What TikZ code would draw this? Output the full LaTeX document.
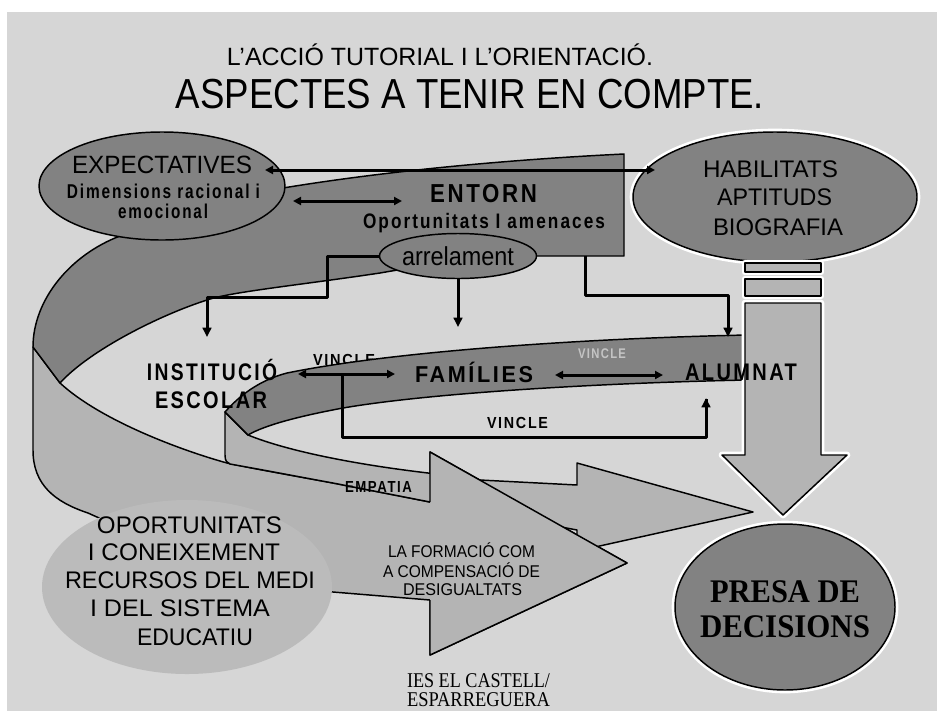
\documentclass[tikz,border=0pt]{standalone}
\usepackage{fontspec}
\setmainfont{Liberation Sans}
\newfontfamily\serifb{Liberation Serif Bold}
\newfontfamily\serifr{Liberation Serif}
\newfontfamily\sbold{Liberation Sans Bold}[LetterSpace=12]
\usetikzlibrary{arrows.meta,shapes.geometric}
\newlength\px \setlength\px{0.75pt}
\definecolor{bgc}{HTML}{D6D6D6}
\definecolor{darkc}{HTML}{828282}
\definecolor{lightc}{HTML}{B4B4B4}
\definecolor{opoc}{HTML}{BBBBBB}
\definecolor{faint}{HTML}{C4C4C4}
\newcommand\putT[6]{\node[anchor=base,inner sep=0pt,#4] (#1) at (#2,#3) {\resizebox{#5\px}{\height}{#6}};}
\begin{document}
\begin{tikzpicture}[x=0.75pt,y=-0.75pt,line join=round,
  outl/.style={draw=black,line width=1.1pt},
  halo/.style={preaction={draw=white,line width=5pt}},
  conn/.style={draw=black,line width=2.25pt},
  onearrow/.style={-{Triangle[length=7pt,width=6.5pt]}},
  twoarrow/.style={{Triangle[length=6pt,width=6pt]}-{Triangle[length=6pt,width=6pt]}},
  oval/.style={ellipse,outl,inner sep=0pt},
  sb/.style={font=\sbold\fontsize{#1}{#1}\selectfont},
  rg/.style={font=\fontsize{#1}{#1}\selectfont},
]
\useasboundingbox (0,0) rectangle (937,711);
\fill[white] (0,0) rectangle (937,711);
\fill[bgc] (7,12) rectangle (937,711);

% text partly hidden by the inner ribbon
\putT{vincleA}{344}{365}{sb=12}{62}{VINCLE}

% outer ribbon, light underside with big arrow
\path[outl,fill=lightc] (33,347) -- (33,450) .. controls (33,485) and (55,502) .. (88,513)
  .. controls (170,550) and (260,585) .. (333,592) -- (430,600) -- (430,655) -- (627,563)
  -- (430,452) -- (430,502) -- (333,483) .. controls (290,475) and (255,469) .. (227,463)
  .. controls (180,450) and (100,420) .. (60,383) -- cycle;
% outer ribbon, dark top side
\path[outl,fill=darkc] (624,154) -- (624,256) -- (537,256) .. controls (470,258) and (420,266) .. (380,273)
  .. controls (300,285) and (230,292) .. (207,300) .. controls (160,315) and (90,350) .. (60,383)
  -- (33,347) .. controls (33,300) and (70,255) .. (120,236) .. controls (180,210) and (240,195) .. (283,188)
  .. controls (380,172) and (500,160) .. (624,154) -- cycle;

\node[ellipse,fill=opoc,minimum width=290\px,minimum height=174\px,inner sep=0pt] (opo) at (187,587) {};

% inner ribbon, light underside (EMPATIA)
\path[outl,fill=lightc] (225,412) -- (225,455) .. controls (225,461) and (227,463) .. (230,464)
  .. controls (280,473) and (300,477) .. (333,483) -- (430,502) -- (577,530) -- (577,551) -- (753,512)
  -- (577,463) -- (577,485) -- (480,480) -- (428,473) .. controls (360,465) and (290,452) .. (248,435) -- cycle;
% inner ribbon, dark top side
\path[outl,fill=darkc] (747,335) -- (747,380) .. controls (600,383) and (430,393) .. (343,408)
  .. controls (300,416) and (265,425) .. (248,435) -- (225,412) .. controls (240,395) and (260,380) .. (287,373)
  .. controls (400,350) and (600,338) .. (747,335) -- cycle;

% head of the big arrow over the inner ribbon
\fill[lightc] (430,452) -- (627,563) -- (430,655) -- cycle;
\draw[outl] (430,502) -- (430,452) -- (627,563) -- (430,655) -- (430,600);

\node[oval,fill=darkc,minimum width=246\px,minimum height=108\px] (expect) at (162,186) {};
\node[oval,fill=darkc,minimum width=157\px,minimum height=45\px] (arrel) at (458,256) {};
\node[oval,fill=darkc,halo,minimum width=284\px,minimum height=130\px] (habil) at (775,197) {};

\path[outl,fill=lightc,halo] (745,263) rectangle (821,272);
\path[outl,fill=lightc,halo] (745,279) rectangle (821,296);
\path[outl,fill=lightc,halo] (745,303) -- (821,303) -- (821,455) -- (847,455) -- (783,515)
  -- (722,455) -- (745,455) -- cycle;

\node[oval,fill=darkc,halo,minimum width=220\px,minimum height=166\px] (presa) at (785,607) {};

% connectors
\coordinate (ehL) at (265,170);
\coordinate (ehR) at (655,170);
\coordinate (eeL) at (293,201);
\coordinate (eeR) at (402,201);
\coordinate (instIn) at (207,337);
\coordinate (famIn) at (458,327);
\coordinate (entOut) at (585,256);
\coordinate (alumIn) at (728,337);
\coordinate (ifL) at (298,374);
\coordinate (ifR) at (395,374);
\coordinate (faL) at (555,375);
\coordinate (faR) at (663,375);
\coordinate (vStart) at (342,374);
\coordinate (vEnd) at (706,398);

\draw[conn,twoarrow] (ehL) -- (ehR);
\draw[conn,twoarrow] (eeL) -- (eeR);
\draw[conn,onearrow] (arrel.west) -| (327,297) -| (instIn);
\draw[conn,onearrow] (arrel.south) -- (famIn);
\draw[conn,onearrow] (entOut) -- ++(0,39) -| (alumIn);
\draw[conn] (vStart) -- ++(0,63) -| ([yshift=-0.75pt]vEnd);
\draw[conn,onearrow] (706,420) -- (vEnd);
\draw[conn,twoarrow] (ifL) -- (ifR);
\draw[conn,twoarrow] (faL) -- (faR);

% texts
\putT{title1}{440}{65}{rg=18.75}{426}{L’ACCIÓ TUTORIAL I L’ORIENTACIÓ.}
\putT{title2}{470}{108}{rg=31.5}{588}{ASPECTES A TENIR EN COMPTE.}

\putT{ex1}{162}{173}{rg=18.75}{180}{EXPECTATIVES}
\putT{ex2}{163.5}{198}{sb=15}{193}{Dimensions racional i}
\putT{ex3}{163}{218}{sb=15}{90}{emocional}

\putT{en1}{483.5}{202}{sb=19.5}{107}{ENTORN}
\putT{en2}{484}{228}{sb=15.75}{242}{Oportunitats I amenaces}
\putT{arr}{458}{265}{rg=19.5}{112}{arrelament}

\putT{hb1}{770.5}{177}{rg=18}{135}{HABILITATS}
\putT{hb2}{774.5}{205}{rg=18}{115}{APTITUDS}
\putT{hb3}{778}{235}{rg=18}{130}{BIOGRAFIA}

\putT{in1}{212}{380}{sb=18}{130}{INSTITUCIÓ}
\putT{in2}{211}{408}{sb=18}{112}{ESCOLAR}
\putT{fam}{474}{382}{sb=17.25}{118}{FAMÍLIES}
\putT{alu}{741}{380}{sb=18}{112}{ALUMNAT}
\putT{vincleB}{517.5}{428}{sb=12}{61}{VINCLE}
\putT{vincleC}{602}{358}{sb=10.5,text=faint}{48}{VINCLE}
\putT{emp}{378.5}{492}{sb=12}{67}{EMPATIA}

\putT{op1}{189.5}{533}{rg=18}{185}{OPORTUNITATS}
\putT{op2}{184}{560}{rg=18}{192}{I CONEIXEMENT}
\putT{op3}{190}{588}{rg=18}{250}{RECURSOS DEL MEDI}
\putT{op4}{180}{616}{rg=18}{180}{I DEL SISTEMA}
\putT{op5}{195}{645}{rg=18}{116}{EDUCATIU}

\putT{fo1}{461.5}{557}{rg=12.75}{147}{LA FORMACIÓ COM}
\putT{fo2}{461.5}{577}{rg=12.75}{157}{A COMPENSACIÓ DE}
\putT{fo3}{462.5}{595}{rg=12.75}{119}{DESIGUALTATS}

\putT{ies1}{478.5}{687}{font=\serifr\fontsize{15.75}{16}\selectfont}{143}{IES EL CASTELL/}
\putT{ies2}{478.5}{706}{font=\serifr\fontsize{15.75}{16}\selectfont}{143}{ESPARREGUERA}

\putT{pr1}{785}{602}{font=\serifb\fontsize{24.75}{25}\selectfont}{150}{PRESA DE}
\putT{pr2}{785}{637}{font=\serifb\fontsize{24.75}{25}\selectfont}{170}{DECISIONS}
\end{tikzpicture}
\end{document}
